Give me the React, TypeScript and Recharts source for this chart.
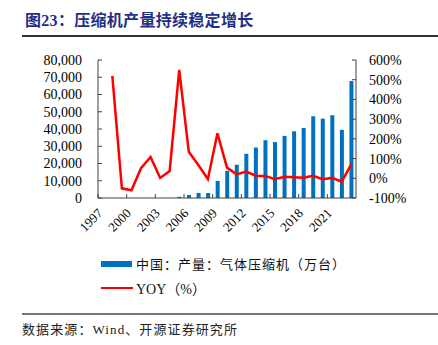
import { Bar, ComposedChart, Line, XAxis, YAxis } from 'recharts';

const years = [
  '1997', '1998', '1999', '2000', '2001', '2002', '2003', '2004', '2005',
  '2006', '2007', '2008', '2009', '2010', '2011', '2012', '2013', '2014',
  '2015', '2016', '2017', '2018', '2019', '2020', '2021', '2022', '2023',
];

// 中国：产量：气体压缩机（万台）
const output = [
  0, 0, 0, 0, 0, 0, 0, 0, 700,
  1730, 2950, 2900, 9900, 15800, 19250, 25600, 29250, 33500,
  32400, 36000, 38700, 40600, 47400, 46000, 48000, 39500, 67800,
];

// YOY（%）
const yoy = [
  null, 520, -51, -61, 51, 108, 2, 37, 550,
  135, 67, -4, 228, 54, 20, 34, 13, 12,
  -5, 8, 5, 3, 13, -5, 2, -17, 71,
];

const leftTicks = [0, 10000, 20000, 30000, 40000, 50000, 60000, 70000, 80000];
const rightTicks = [-100, 0, 100, 200, 300, 400, 500, 600];

const barName = '中国：产量：气体压缩机（万台）';
const lineName = 'YOY（%）';
const barColor = '#0070C0';
const lineColor = '#FF0000';

const data = years.map((year, i) => ({ year, output: output[i], yoy: yoy[i] }));

const W = 438;
const H = 345;
const margin = { top: 60, right: 12, left: 8, bottom: 97 };
const leftAxisW = 90;
const rightAxisW = 70;
const plotW = W - margin.left - margin.right - leftAxisW - rightAxisW;
const band = plotW / years.length;

const serif = 'Liberation Serif, Noto Sans CJK SC, serif';
const axisColor = '#404040';

const YearTick = (props: any) => {
  const { x, y, payload } = props;
  const bx = x - band / 2;
  return (
    <g>
      <line x1={bx} y1={y} x2={bx} y2={y - 4} stroke={axisColor} />
      <text
        x={x + 0.5}
        y={y + 16}
        transform={`rotate(-45, ${x + 0.5}, ${y + 16})`}
        textAnchor='end'
        style={{ fontSize: 13, fontFamily: serif, fill: '#000' }}
      >
        {payload.value}
      </text>
    </g>
  );
};

const tickStyle = { fill: '#000', fontSize: 14, style: { fontFamily: serif } };

const App = () => {
  return (
    <div
      style={{
        position: 'absolute',
        left: 0,
        top: 0,
        width: W,
        height: H,
        background: '#fff',
        fontFamily: serif,
      }}
    >
      <div
        style={{
          position: 'absolute',
          left: 25,
          top: 12,
          fontSize: 16,
          lineHeight: '18px',
          fontWeight: 'bold',
          color: '#1F2F86',
          letterSpacing: 0.3,
          whiteSpace: 'nowrap',
        }}
      >
        图23：压缩机产量持续稳定增长
      </div>
      <div style={{ position: 'absolute', left: 22, top: 35, width: 416, height: 1.5, background: '#333' }} />

      <div style={{ position: 'absolute', left: 0, top: 0 }}>
        <ComposedChart width={W} height={H} data={data} margin={margin}>
          <XAxis
            dataKey='year'
            interval={2}
            height={50}
            tickLine={false}
            tickSize={0}
            tickMargin={0}
            tick={<YearTick />}
            axisLine={{ stroke: axisColor }}
          />
          <YAxis
            yAxisId='left'
            width={leftAxisW}
            domain={[0, 80000]}
            ticks={leftTicks}
            interval={0}
            tickFormatter={(v: number) => v.toLocaleString('en-US')}
            tickSize={-4}
            tickMargin={20}
            tick={tickStyle}
            tickLine={{ stroke: axisColor }}
            axisLine={{ stroke: axisColor }}
          />
          <YAxis
            yAxisId='right'
            orientation='right'
            width={rightAxisW}
            domain={[-100, 600]}
            ticks={rightTicks}
            interval={0}
            tickFormatter={(v: number) => `${v}%`}
            tickSize={-4}
            tickMargin={17}
            tick={tickStyle}
            tickLine={{ stroke: axisColor }}
            axisLine={{ stroke: axisColor }}
          />
          <Bar
            yAxisId='left'
            dataKey='output'
            name={barName}
            fill={barColor}
            barSize={4}
            isAnimationActive={false}
          />
          <Line
            yAxisId='right'
            dataKey='yoy'
            name={lineName}
            type='linear'
            stroke={lineColor}
            strokeWidth={2.5}
            dot={false}
            activeDot={false}
            isAnimationActive={false}
          />
        </ComposedChart>
      </div>

      <div style={{ position: 'absolute', left: 101, top: 254, display: 'flex', alignItems: 'center' }}>
        <div style={{ width: 31, height: 6, background: barColor }} />
        <span style={{ marginLeft: 4, fontSize: 13, letterSpacing: 1, color: '#111', fontFamily: 'Noto Sans CJK SC, sans-serif' }}>
          {barName}
        </span>
      </div>
      <div style={{ position: 'absolute', left: 101, top: 278, display: 'flex', alignItems: 'center' }}>
        <div style={{ width: 32, height: 2.5, background: lineColor }} />
        <span style={{ marginLeft: 3, fontSize: 14, color: '#111', fontFamily: serif }}>
          {lineName}
        </span>
      </div>

      <div style={{ position: 'absolute', left: 22, top: 313, width: 416, height: 1.5, background: '#777' }} />
      <div
        style={{
          position: 'absolute',
          left: 22,
          top: 319,
          fontSize: 13,
          letterSpacing: 1.1,
          color: '#222',
          whiteSpace: 'nowrap',
          fontFamily: serif,
        }}
      >
        数据来源：Wind、开源证券研究所
      </div>
    </div>
  );
};

export default App;
